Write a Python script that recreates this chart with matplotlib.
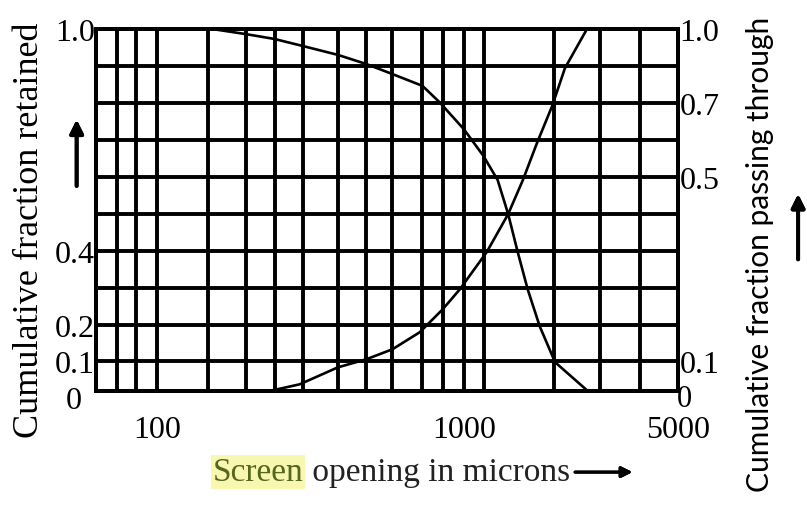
import matplotlib
matplotlib.use("Agg")
import matplotlib.pyplot as plt
from matplotlib.transforms import blended_transform_factory

# screen sizes (microns) where the log-paper grid lines sit
grid_sizes = [63, 74, 85, 100, 146, 195, 241, 298, 388, 481, 585,
              733, 855, 1000, 1160, 1970, 2780, 3760, 5000]
grid_fracs = [0.1, 0.2, 0.3, 0.4, 0.5, 0.6, 0.7, 0.8, 0.9, 1.0]

# cumulative fraction retained on the screen
retained_size = [151, 195, 241, 298, 388, 481, 585, 733, 833, 1000,
                 1160, 1290, 1396, 1500, 1617, 1770, 1986, 2540]
retained_frac = [1.0, 0.986, 0.973, 0.954, 0.930, 0.905, 0.878, 0.846,
                 0.802, 0.729, 0.656, 0.591, 0.499, 0.396, 0.295, 0.195,
                 0.098, 0.02]

# cumulative fraction passing through the screen
passing_size = [232, 291, 388, 481, 585, 718, 853, 970, 1188, 1396,
                1559, 1733, 1942, 2139, 2524]
passing_frac = [0.02, 0.038, 0.084, 0.106, 0.133, 0.179, 0.241, 0.295,
                0.396, 0.499, 0.591, 0.691, 0.791, 0.894, 1.0]

x_ticks = [100, 1000, 5000]
x_labels = ["100", "1000", "5000"]
left_ticks = [0.1, 0.2, 0.4, 1.0]
left_labels = ["0.1", "0.2", "0.4", "1.0"]
right_ticks = [0.1, 0.6, 0.8, 1.0]
right_labels = ["0.1", "0.5", "0.7", "1.0"]

serif = ["Liberation Serif", "DejaVu Serif"]
fs = 23

fig = plt.figure(figsize=(8.07, 5.06), dpi=100)
ax = fig.add_axes([0.119, 0.2253, 0.721, 0.7154])
ax.set_xscale("log")
ax.set_xlim(63, 5000)
ax.set_ylim(0.02, 1.0)

for gx in grid_sizes:
    ax.axvline(gx, color="black", lw=2.8, zorder=1)
for gy in grid_fracs:
    ax.axhline(gy, color="black", lw=2.8, zorder=1)

ax.plot(retained_size, retained_frac, color="black", lw=1.9, zorder=2,
        solid_joinstyle="round")
ax.plot(passing_size, passing_frac, color="black", lw=1.9, zorder=2,
        solid_joinstyle="round")

for sp in ax.spines.values():
    sp.set_linewidth(2.8)

ax.xaxis.set_minor_locator(plt.NullLocator())
ax.set_xticks(x_ticks)
ax.set_xticklabels(x_labels, family=serif, fontsize=fs)
ax.set_yticks(left_ticks)
ax.set_yticklabels(left_labels, family=serif, fontsize=fs)
ax.tick_params(axis="both", length=0)
ax.tick_params(axis="x", pad=17)
ax.tick_params(axis="y", pad=1)

ax2 = ax.twinx()
ax2.set_ylim(ax.get_ylim())
ax2.set_yticks(right_ticks)
ax2.set_yticklabels(right_labels, family=serif, fontsize=fs)
ax2.tick_params(axis="y", length=0, pad=1)
for sp in ax2.spines.values():
    sp.set_linewidth(2.8)

# the zero labels sit just below the cropped frame
trans = blended_transform_factory(ax.transAxes, ax.transData)
ax.text(-0.038, -0.005, "0", transform=trans, ha="center", va="center",
        family=serif, fontsize=fs, clip_on=False)
ax.text(1.012, 0.0, "0", transform=trans, ha="center", va="center",
        family=serif, fontsize=fs - 1, clip_on=False)

fig.text(0.036, 0.545, "Cumulative fraction retained", rotation=90,
         ha="center", va="center", family=serif, fontsize=26)
fig.text(0.942, 0.497, "Cumulative fraction passing through", rotation=90,
         ha="center", va="center", family=["Lato", "DejaVu Sans"],
         fontsize=21.5)

# vertical arrows next to the axis titles
fig.add_artist(plt.annotate("", xy=(0.095, 0.767), xytext=(0.095, 0.625),
                            xycoords="figure fraction",
                            arrowprops=dict(arrowstyle="-|>", color="black",
                                            lw=2.8, mutation_scale=20)))
fig.add_artist(plt.annotate("", xy=(0.989, 0.62), xytext=(0.989, 0.48),
                            xycoords="figure fraction",
                            arrowprops=dict(arrowstyle="-|>", color="black",
                                            lw=2.8, mutation_scale=20)))

# x axis title, first word highlighted
y_title = 0.065
t1 = fig.text(213 / 807, y_title, "Screen", ha="left", va="center",
              family=serif, fontsize=24, color="#56651f",
              bbox=dict(boxstyle="square,pad=0.05", facecolor="#f7f7b0",
                        edgecolor="none"))
renderer = fig.canvas.get_renderer()
bb = t1.get_window_extent(renderer)
t2 = fig.text(bb.x1 / fig.bbox.width, y_title, " opening in microns",
              ha="left", va="center", family=serif, fontsize=24,
              color="#222222")
bb2 = t2.get_window_extent(renderer)
x0 = bb2.x1 / fig.bbox.width + 0.003
fig.add_artist(plt.annotate("", xy=(x0 + 0.078, y_title),
                            xytext=(x0, y_title),
                            xycoords="figure fraction",
                            arrowprops=dict(arrowstyle="-|>", color="black",
                                            lw=2.2, mutation_scale=16)))

fig.savefig("out.png", dpi=100)
